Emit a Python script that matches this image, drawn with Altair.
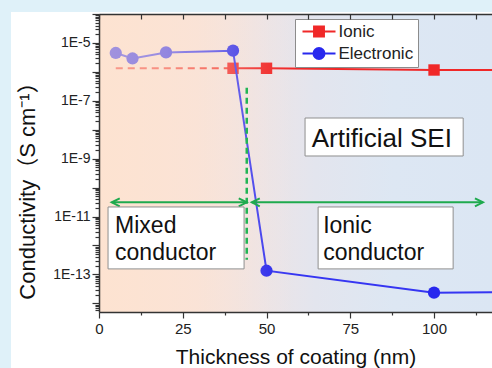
import altair as alt
import pandas as pd

FONT = "Liberation Sans, Arial, Noto Sans CJK SC, sans-serif"

# ---------------- data ----------------
e_thick = [5, 10, 20, 40, 50, 100, 120]
e_cond = [4.5e-6, 2.9e-6, 4.7e-6, 5.4e-6, 1.34e-13, 2.34e-14, 2.4e-14]
i_thick = [40, 50, 100, 120]
i_cond = [1.33e-6, 1.33e-6, 1.16e-6, 1.16e-6]
d_thick = [5, 40]
d_cond = [1.33e-6, 1.33e-6]
series = ["Ionic", "Electronic"]

split_x = [44.1]
split_y1 = [2.8e-7]
split_y2 = [3.2e-13]

arrow_x1 = [3.8, 45.6]
arrow_x2 = [44.1, 114.6]
arrow_y = [3.1e-11, 3.1e-11]

box_x1 = [2.7, 65.4, 61.5]
box_x2 = [43.3, 105.7, 108.7]
box_y1 = [10 ** -10.67, 10 ** -10.67, 10 ** -7.595]
box_y2 = [10 ** -12.81, 10 ** -12.81, 10 ** -8.908]

label_text = ["Mixed\nconductor", "Ionic\nconductor", "Artificial SEI"]
label_x = [4.8, 66.9, 63.5]
label_y = [10 ** -11.57, 10 ** -11.57, 10 ** -8.587]
label_size = [23, 23, 26]

x_ticks = [0, 12.5, 25, 37.5, 50, 62.5, 75, 87.5, 100, 112.5]
y_ticks = [m * 10.0 ** e for e in range(-15, -4) for m in range(1, 10)] + [1e-4]
y_ticks = [v for v in y_ticks if v >= 10 ** -14.3 and v <= 1.0001e-4]

# ---------------- layout ----------------
W, H = 393, 298
xs = alt.Scale(domain=[0, 117.3], nice=False, zero=False)
ys = alt.Scale(type="log", domain=[10 ** -14.3, 1e-4], nice=False)

AX = "#333333"
RED = "#f02828"
BLUE = "#2828ee"
GREEN = "#1faa4e"

df_e = pd.DataFrame({"t": e_thick, "c": e_cond})
df_i = pd.DataFrame({"t": i_thick, "c": i_cond})
df_d = pd.DataFrame({"t": d_thick, "c": d_cond})
df_split = pd.DataFrame({"t": split_x, "c1": split_y1, "c2": split_y2})
df_arrow = pd.DataFrame({"t1": arrow_x1, "t2": arrow_x2, "c": arrow_y})
df_box = pd.DataFrame({"t1": box_x1, "t2": box_x2, "c1": box_y1, "c2": box_y2})
df_lab = pd.DataFrame({"t": label_x, "c": label_y, "txt": label_text, "fs": label_size})
df_leg = pd.DataFrame({"s": series})
one = pd.DataFrame({"a": [0]})

LOGEXPR = "log(datum.value)/LN10"
IS_DEC = f"abs({LOGEXPR} - round({LOGEXPR})) < 0.001"

x_main_axis = alt.Axis(
    orient="bottom", values=x_ticks, grid=False, zindex=1,
    labelExpr="datum.value % 25 == 0 ? datum.label : ''",
    tickSize={"condition": {"test": "datum.value % 25 == 0", "value": 6}, "value": 3},
    labelFlush=False, labelOverlap=False, labelFontSize=15, labelPadding=3,
    domainColor=AX, domainWidth=1.5, tickColor=AX, tickWidth=1.2,
    title="Thickness of coating (nm)", titleFontSize=21, titleFontWeight="normal",
    titleY=51, titleBaseline="alphabetic",
)
y_main_axis = alt.Axis(
    orient="left", values=y_ticks, grid=False, zindex=1,
    labelExpr=f"({IS_DEC} && round({LOGEXPR}) % 2 != 0) ? '1E' + round({LOGEXPR}) : ''",
    tickSize={"condition": {"test": IS_DEC, "value": 7}, "value": 4},
    labelOverlap=False, labelFontSize=14, labelPadding=2,
    domainColor=AX, domainWidth=1.5, tickColor=AX, tickWidth=1.2,
    title="Conductivity（S cm⁻¹）", titleFontSize=22, titleFontWeight="normal",
    titleX=-72, titleY=171, titleBaseline="middle", titleAlign="center",
)
x_top_domain = alt.Axis(orient="top", ticks=False, labels=False, domain=True, grid=False,
                        title=None, zindex=1, domainColor=AX, domainWidth=1.5)
x_top_ticks = alt.Axis(orient="top", offset=-5, values=x_ticks, ticks=True, tickSize=5,
                       labels=False, domain=False, grid=False, title=None, zindex=1,
                       tickColor=AX, tickWidth=1.2)

# ---------------- layers ----------------
panel = alt.Chart(one).mark_rect(fill="white", clip=False).encode(
    x=alt.value(-88), x2=alt.value(W + 20), y=alt.value(-2), y2=alt.value(H + 80))

bg_grad = {
    "gradient": "linear", "x1": 0, "x2": 1, "y1": 0, "y2": 0,
    "stops": [
        {"offset": 0, "color": "#fde3d1"},
        {"offset": 0.25, "color": "#f8e3da"},
        {"offset": 0.40, "color": "#eee4e5"},
        {"offset": 0.55, "color": "#e3e5ee"},
        {"offset": 0.75, "color": "#dde7f3"},
        {"offset": 1, "color": "#dbe6f3"},
    ],
}
bg = alt.Chart(one).mark_rect(fill=bg_grad).encode(
    x=alt.value(0), x2=alt.value(W), y=alt.value(0), y2=alt.value(H))

ov_grad = {
    "gradient": "linear", "x1": 0, "x2": 1, "y1": 0, "y2": 0,
    "stops": [
        {"offset": 0, "color": "rgba(253,227,209,0.58)"},
        {"offset": 0.17, "color": "rgba(253,227,209,0.5)"},
        {"offset": 0.34, "color": "rgba(253,227,209,0.26)"},
        {"offset": 0.43, "color": "rgba(253,227,209,0.08)"},
        {"offset": 0.5, "color": "rgba(253,227,209,0)"},
        {"offset": 1, "color": "rgba(253,227,209,0)"},
    ],
}
overlay = alt.Chart(one).mark_rect(fill=ov_grad).encode(
    x=alt.value(0), x2=alt.value(W), y=alt.value(0), y2=alt.value(H))

dashed = alt.Chart(df_d).mark_line(color="#f23a30", strokeWidth=2, strokeDash=[7, 5], clip=True).encode(
    x=alt.X("t:Q", scale=xs, axis=None), y=alt.Y("c:Q", scale=ys, axis=None))

ionic_line = alt.Chart(df_i).mark_line(color=RED, strokeWidth=2, clip=True).encode(
    x=alt.X("t:Q", scale=xs, axis=x_top_domain), y=alt.Y("c:Q", scale=ys, axis=None))
ionic_pts = alt.Chart(df_i).mark_point(shape="square", filled=True, size=130, color=RED,
                                       opacity=1, clip=True).encode(
    x=alt.X("t:Q", scale=xs, axis=x_top_ticks), y=alt.Y("c:Q", scale=ys, axis=None))

elec_line = alt.Chart(df_e).mark_line(color="#3535f2", strokeWidth=2, clip=True).encode(
    x=alt.X("t:Q", scale=xs, axis=x_main_axis), y=alt.Y("c:Q", scale=ys, axis=y_main_axis))
elec_pts = alt.Chart(df_e).mark_point(shape="circle", filled=True, size=150, color=BLUE,
                                      opacity=1, clip=True).encode(
    x=alt.X("t:Q", scale=xs, axis=None), y=alt.Y("c:Q", scale=ys, axis=None))

split = alt.Chart(df_split).mark_rule(color="#22b554", strokeWidth=2.5, strokeDash=[6, 4]).encode(
    x=alt.X("t:Q", scale=xs, axis=None), y=alt.Y("c1:Q", scale=ys, axis=None), y2="c2:Q")

arrows = alt.Chart(df_arrow).mark_rule(color=GREEN, strokeWidth=2).encode(
    x=alt.X("t1:Q", scale=xs, axis=None), x2="t2:Q", y=alt.Y("c:Q", scale=ys, axis=None))
head_l = alt.Chart(df_arrow).mark_point(shape="M2,-1L0,0L2,1", filled=False, color=GREEN,
                                        strokeWidth=2, size=64, opacity=1).encode(
    x=alt.X("t1:Q", scale=xs, axis=None), y=alt.Y("c:Q", scale=ys, axis=None))
head_r = alt.Chart(df_arrow).mark_point(shape="M-2,-1L0,0L-2,1", filled=False, color=GREEN,
                                        strokeWidth=2, size=64, opacity=1).encode(
    x=alt.X("t2:Q", scale=xs, axis=None), y=alt.Y("c:Q", scale=ys, axis=None))

boxes = alt.Chart(df_box).mark_rect(fill="white", stroke="#8f8f8f", strokeWidth=1).encode(
    x=alt.X("t1:Q", scale=xs, axis=None), x2="t2:Q",
    y=alt.Y("c1:Q", scale=ys, axis=None), y2="c2:Q")
labels = alt.Chart(df_lab).mark_text(align="left", baseline="alphabetic", lineBreak="\n",
                                     lineHeight=27, font=FONT, color="#111111").encode(
    x=alt.X("t:Q", scale=xs, axis=None), y=alt.Y("c:Q", scale=ys, axis=None),
    text="txt:N", size=alt.Size("fs:Q", scale=None))

shape_ionic = "M-3,0H3M-0.9,-0.9H0.9V0.9H-0.9Z"
shape_elec = "M-3,0H3M1,0A1,1 0 1,1 -1,0A1,1 0 1,1 1,0Z"
leg = alt.Legend(title=None, orient="none", legendX=196, legendY=5, direction="vertical",
                 fillColor="white", strokeColor="#8c8c8c", padding=4,
                 labelFont=FONT, labelFontSize=17, labelColor="#222222",
                 symbolSize=121, symbolStrokeWidth=2, symbolOffset=11.5, labelOffset=11,
                 rowPadding=3, symbolOpacity=1)
cs = alt.Scale(domain=series, range=[RED, BLUE])
legend_layer = alt.Chart(df_leg).mark_point(filled=True, clip=True, opacity=1).encode(
    x=alt.value(-500), y=alt.value(-500),
    fill=alt.Fill("s:N", scale=cs, legend=leg),
    stroke=alt.Stroke("s:N", scale=cs, legend=leg),
    shape=alt.Shape("s:N", scale=alt.Scale(domain=series, range=[shape_ionic, shape_elec]), legend=leg),
)

chart = alt.layer(
    panel, bg, dashed, ionic_line, ionic_pts, elec_line, elec_pts, overlay,
    split, arrows, head_l, head_r, boxes, labels, legend_layer,
).resolve_axis(x="independent", y="independent").properties(
    width=W, height=H,
    autosize=alt.AutoSizeParams(type="none"),
    padding={"left": 99, "top": 14, "right": 0, "bottom": 56},
    background="#dff1f9",
).configure_view(strokeWidth=0).configure_axis(
    labelFont=FONT, titleFont=FONT, labelColor="#222222", titleColor="#111111",
)

chart.save("out.html", embed_options={"renderer": "svg", "actions": False})
